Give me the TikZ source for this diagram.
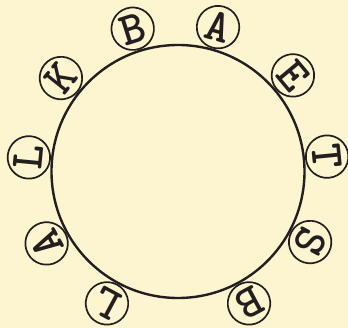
\documentclass[tikz,border=0pt]{standalone}
\usepackage{fontspec}
\usetikzlibrary{calc}
\definecolor{paper}{RGB}{253,245,208}
\definecolor{ink}{RGB}{35,31,32}

\begin{document}
\begin{tikzpicture}[x=1bp, y=1bp,
    wheel/.style={draw=ink, circle, line width=2.4bp, minimum size=253bp, inner sep=0pt},
    tile/.style={draw=ink, circle, line width=1.7bp, minimum size=42.5bp, inner sep=0pt, text=ink, font=\ttfamily\bfseries\fontsize{47}{47}\selectfont}]
    \fill[paper] (0,0) rectangle (348,328);
    \useasboundingbox (0,0) rectangle (348,328);
    \node[wheel] (ring) at (178,156.5) {};
    % letters around the ring, tops pointing outwards
    \foreach \ang/\ch [count=\i] in {107.6/B, 74.5/A, 39.9/E, 5.7/T, -28.1/S, -61.7/B, -118.3/L, -151.3/A, 174.6/L, 141.4/K}
        \node[tile, rotate=\ang-90] (t\i) at ($(ring.center)+(\ang:149.8bp)$) {\ch};
\end{tikzpicture}
\end{document}
